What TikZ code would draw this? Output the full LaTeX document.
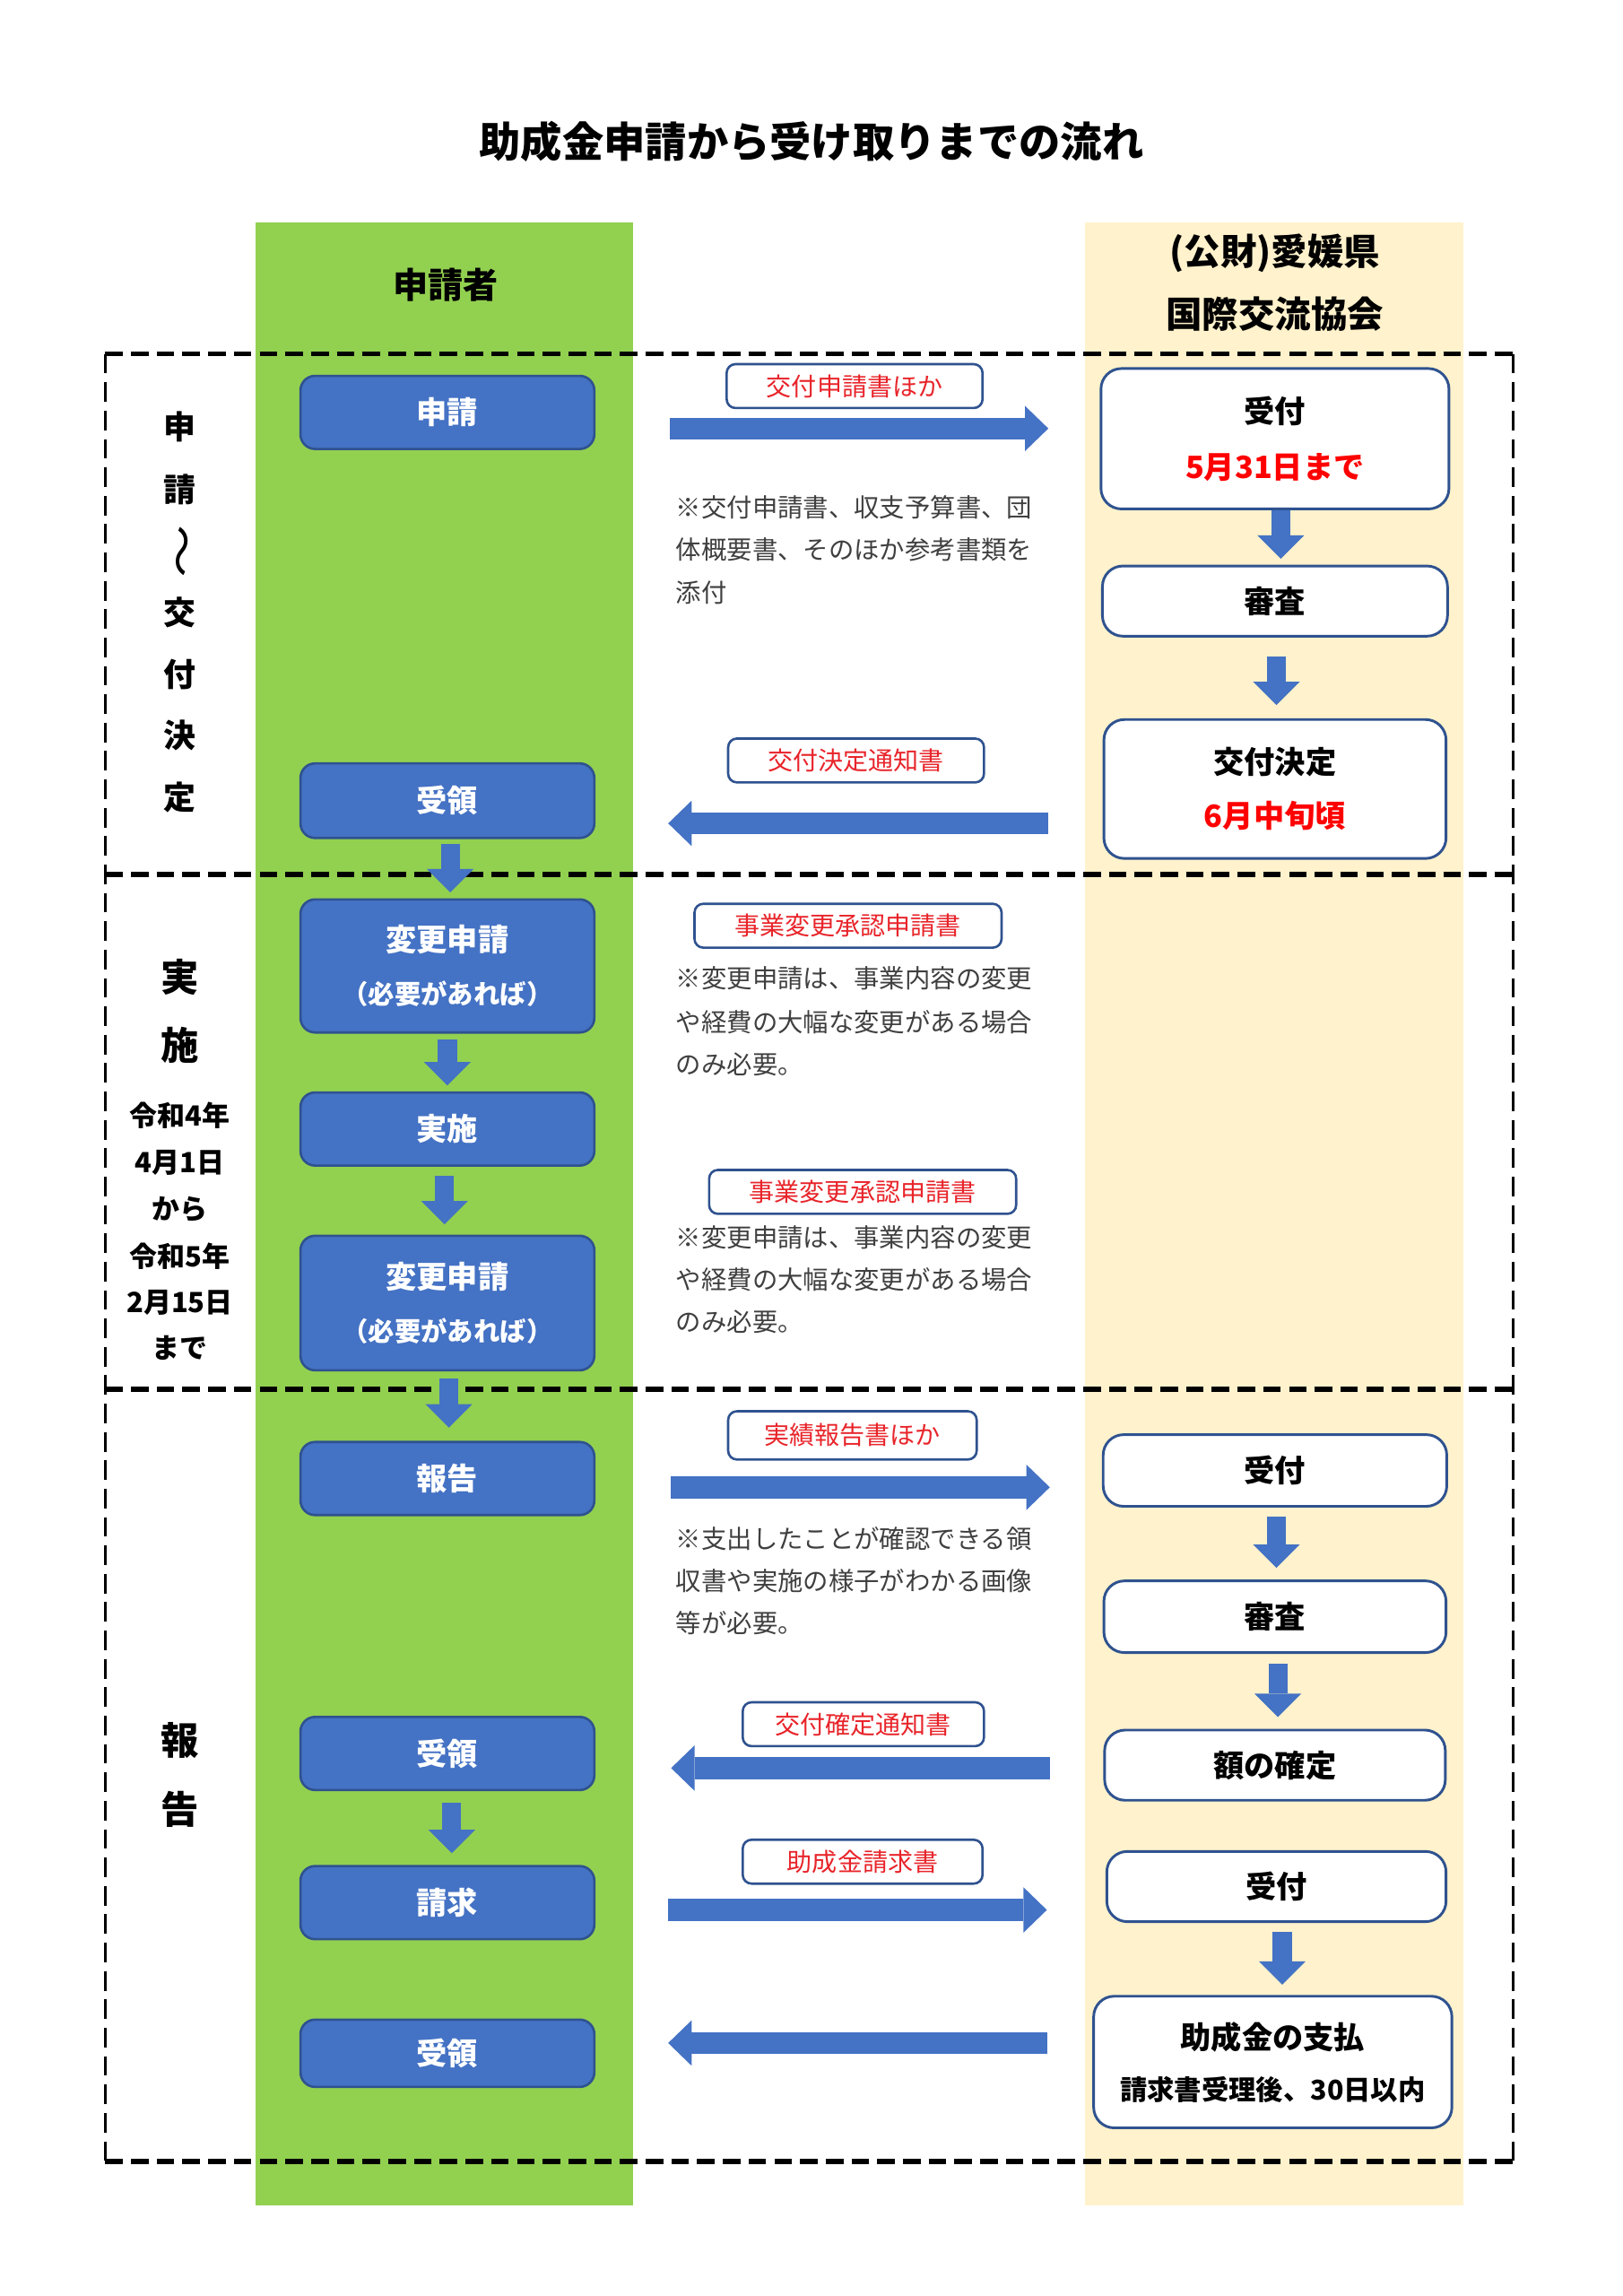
\documentclass[tikz,border=0pt]{standalone}
\usepackage{fontspec}
\setmainfont{Noto Sans CJK JP}
\usetikzlibrary{arrows.meta}
\definecolor{grn}{HTML}{92D050}
\definecolor{ylw}{HTML}{FFF2CC}
\definecolor{bfill}{HTML}{4472C4}
\definecolor{bdr}{HTML}{2F528F}
\definecolor{redtxt}{HTML}{FF0000}
\definecolor{labred}{HTML}{E8242A}
\definecolor{notegray}{HTML}{3F3F3F}
\begin{document}
\begin{tikzpicture}[x=0.5pt,y=-0.5pt,
  bluebox/.style={draw=bdr, line width=0.8pt, fill=bfill, rounded corners=5pt, minimum width=100.5pt, text=white, font=\fontsize{10.5}{12}\selectfont\bfseries, inner sep=0pt, align=center},
  whitebox/.style={draw=bdr, line width=0.9pt, fill=white, rounded corners=7pt, text=black, font=\fontsize{10.5}{12}\selectfont\bfseries, inner sep=0pt, align=center},
  labbox/.style={draw=bdr, line width=0.8pt, fill=white, rounded corners=3pt, text=labred, font=\fontsize{8.6}{10}\selectfont, inner sep=0pt, minimum height=15pt},
  notetxt/.style={anchor=west, text=notegray, font=\fontsize{8.7}{10}\selectfont, inner sep=0pt},
  sidelab/.style={font=\fontsize{11}{12}\selectfont\bfseries, inner sep=0pt},
  bigside/.style={font=\fontsize{13}{14}\selectfont\bfseries, inner sep=0pt},
  dateside/.style={font=\fontsize{9.5}{11}\selectfont\bfseries, inner sep=0pt},
  harrow/.style={draw=bfill, line width=7.5pt, -{Triangle[width=15.5pt,length=8pt,line width=0pt]}},
  varrow/.style={draw=bfill, line width=6.5pt, -{Triangle[width=16pt,length=8pt,line width=0pt]}},
  hdash/.style={line width=1.6pt, dash pattern=on 6pt off 2.8pt},
  vdash/.style={line width=1.1pt, dash pattern=on 6.7pt off 3pt},
]
\useasboundingbox (0,0) rectangle (1110,1570);
% columns
\fill[grn] (175,152) rectangle (433,1508);
\fill[ylw] (742,152) rectangle (1001,1508);

% title and headers
\node[font=\fontsize{14.2}{16}\selectfont\bfseries, inner sep=0pt] (title) at (555,97) {助成金申請から受け取りまでの流れ};
\node[font=\fontsize{12}{14}\selectfont\bfseries, inner sep=0pt] (hdrL) at (305,195) {申請者};
\node[font=\fontsize{12.4}{14}\selectfont\bfseries, inner sep=0pt] (hdrR1) at (872,173) {(公財)愛媛県};
\node[font=\fontsize{12.4}{14}\selectfont\bfseries, inner sep=0pt] (hdrR2) at (872,215) {国際交流協会};

% dashed frames
\draw[hdash] (72,242) -- (1035,242);
\draw[hdash] (72,598) -- (1035,598);
\draw[hdash] (72,950) -- (1035,950);
\draw[hdash] (72,1478) -- (1035,1478);
\draw[vdash] (72,242) -- (72,1478);
\draw[vdash] (1035,242) -- (1035,1478);

% side labels
\node[sidelab] (s1) at (123,292) {申};
\node[sidelab] (s2) at (123,335) {請};
\node[font=\fontsize{15}{16}\selectfont, inner sep=0pt, rotate=-90, xscale=1.2] (s3) at (121,377) {～};
\node[sidelab] (s4) at (123,419) {交};
\node[sidelab] (s5) at (123,461) {付};
\node[sidelab] (s6) at (123,503) {決};
\node[sidelab] (s7) at (123,545) {定};
\node[bigside] (m1) at (123,668) {実};
\node[bigside] (m2) at (123,715) {施};
\node[dateside] (d1) at (123,763) {令和4年};
\node[dateside] (d2) at (123,795) {4月1日};
\node[dateside] (d3) at (123,827) {から};
\node[dateside] (d4) at (123,859) {令和5年};
\node[dateside] (d5) at (123,891) {2月15日};
\node[dateside] (d6) at (123,922) {まで};
\node[bigside] (p1) at (123,1190) {報};
\node[bigside] (p2) at (123,1237) {告};

% left column boxes
\node[bluebox, minimum height=25pt] (app) at (306,282) {申請};
\node[bluebox, minimum height=25.5pt] (rec1) at (306,547.5) {受領};
\node[bluebox, minimum height=45.5pt] (chg1) at (306,660.5) {変更申請\\[6pt]{\fontsize{9}{10}\selectfont（必要があれば）}};
\node[bluebox, minimum height=25pt] (impl) at (306,772) {実施};
\node[bluebox, minimum height=46pt] (chg2) at (306,891) {変更申請\\[6pt]{\fontsize{9}{10}\selectfont（必要があれば）}};
\node[bluebox, minimum height=25pt] (rep) at (306,1011) {報告};
\node[bluebox, minimum height=25pt] (rec2) at (306,1199) {受領};
\node[bluebox, minimum height=25pt] (req) at (306,1301) {請求};
\node[bluebox, minimum height=23pt] (rec3) at (306,1404) {受領};

% right column boxes
\node[whitebox, minimum width=119pt, minimum height=48pt] (r1) at (872,300) {受付\\[7pt]\textcolor{redtxt}{5月31日まで}};
\node[whitebox, minimum width=118pt, minimum height=24pt] (r2) at (872,411) {審査};
\node[whitebox, minimum width=117pt, minimum height=47.5pt] (r3) at (872,539.5) {交付決定\\[6.5pt]\textcolor{redtxt}{6月中旬頃}};
\node[whitebox, minimum width=117.5pt, minimum height=24.5pt] (r4) at (872,1005.5) {受付};
\node[whitebox, minimum width=117pt, minimum height=24.5pt] (r5) at (872,1105.5) {審査};
\node[whitebox, minimum width=116.5pt, minimum height=24pt] (r6) at (872,1207) {額の確定};
\node[whitebox, minimum width=116pt, minimum height=24pt] (r7) at (873,1290) {受付};
\node[whitebox, minimum width=122.5pt, minimum height=45pt] (r8) at (870.5,1410) {助成金の支払\\[5.5pt]{\fontsize{9.3}{11}\selectfont 請求書受理後、30日以内}};

% label boxes
\node[labbox, minimum width=87.5pt] (l1) at (584.5,264) {交付申請書ほか};
\node[labbox, minimum width=87.5pt] (l2) at (585.5,520) {交付決定通知書};
\node[labbox, minimum width=105pt] (l3) at (580,633) {事業変更承認申請書};
\node[labbox, minimum width=105pt] (l4) at (590,815) {事業変更承認申請書};
\node[labbox, minimum width=85pt, minimum height=16.5pt] (l5) at (583,981.5) {実績報告書ほか};
\node[labbox, minimum width=82.5pt] (l6) at (590.5,1179) {交付確定通知書};
\node[labbox, minimum width=82pt] (l7) at (590,1273) {助成金請求書};

% notes
\node[notetxt] (n1a) at (462,347) {※交付申請書、収支予算書、団};
\node[notetxt] (n1b) at (462,376) {体概要書、そのほか参考書類を};
\node[notetxt] (n1c) at (462,405) {添付};
\node[notetxt] (n2a) at (462,669) {※変更申請は、事業内容の変更};
\node[notetxt] (n2b) at (462,699) {や経費の大幅な変更がある場合};
\node[notetxt] (n2c) at (462,728) {のみ必要。};
\node[notetxt] (n3a) at (462,846) {※変更申請は、事業内容の変更};
\node[notetxt] (n3b) at (462,875) {や経費の大幅な変更がある場合};
\node[notetxt] (n3c) at (462,904) {のみ必要。};
\node[notetxt] (n4a) at (462,1052) {※支出したことが確認できる領};
\node[notetxt] (n4b) at (462,1081) {収書や実施の様子がわかる画像};
\node[notetxt] (n4c) at (462,1110) {等が必要。};

% horizontal block arrows
\coordinate (a1s) at (458,293);  \coordinate (a1e) at (717,293);
\coordinate (a2s) at (717,563);  \coordinate (a2e) at (457,563);
\coordinate (a3s) at (459,1017); \coordinate (a3e) at (718,1017);
\coordinate (a4s) at (718,1209); \coordinate (a4e) at (459,1209);
\coordinate (a5s) at (457,1306); \coordinate (a5e) at (716,1306);
\coordinate (a6s) at (716,1397); \coordinate (a6e) at (457,1397);
\draw[harrow] (a1s) -- (a1e);
\draw[harrow] (a2s) -- (a2e);
\draw[harrow] (a3s) -- (a3e);
\draw[harrow] (a4s) -- (a4e);
\draw[harrow] (a5s) -- (a5e);
\draw[harrow] (a6s) -- (a6e);

% vertical arrows, left column
\draw[varrow, shorten <=1.5pt, shorten >=2pt] ([xshift=1pt]rec1.south) -- ([xshift=1pt]chg1.north);
\draw[varrow, shorten <=2pt, shorten >=2pt] (chg1.south) -- (impl.north);
\draw[varrow, shorten <=3pt, shorten >=3.5pt] ([xshift=-1pt]impl.south) -- ([xshift=-1pt]chg2.north);
\draw[varrow, shorten <=2.5pt, shorten >=4.5pt] ([xshift=0.5pt]chg2.south) -- ([xshift=0.5pt]rep.north);
\draw[varrow, shorten <=4pt, shorten >=4pt] ([xshift=1.5pt]rec2.south) -- ([xshift=1.5pt]req.north);

% vertical arrows, right column
\draw[varrow, shorten >=2pt] ([xshift=2pt]r1.south) -- ([xshift=2pt]r2.north);
\draw[varrow, shorten <=6.5pt, shorten >=4.5pt] ([xshift=0.5pt]r2.south) -- ([xshift=0.5pt]r3.north);
\draw[varrow, shorten <=3pt, shorten >=4pt] ([xshift=0.5pt]r4.south) -- ([xshift=0.5pt]r5.north);
\draw[varrow, shorten <=3.5pt, shorten >=4pt] ([xshift=1pt]r5.south) -- ([xshift=1pt]r6.north);
\draw[varrow, shorten <=3pt, shorten >=3.5pt] ([xshift=2pt]r7.south |- r7.south) -- ([xshift=2pt]r7.south |- r8.north);
\end{tikzpicture}
\end{document}
